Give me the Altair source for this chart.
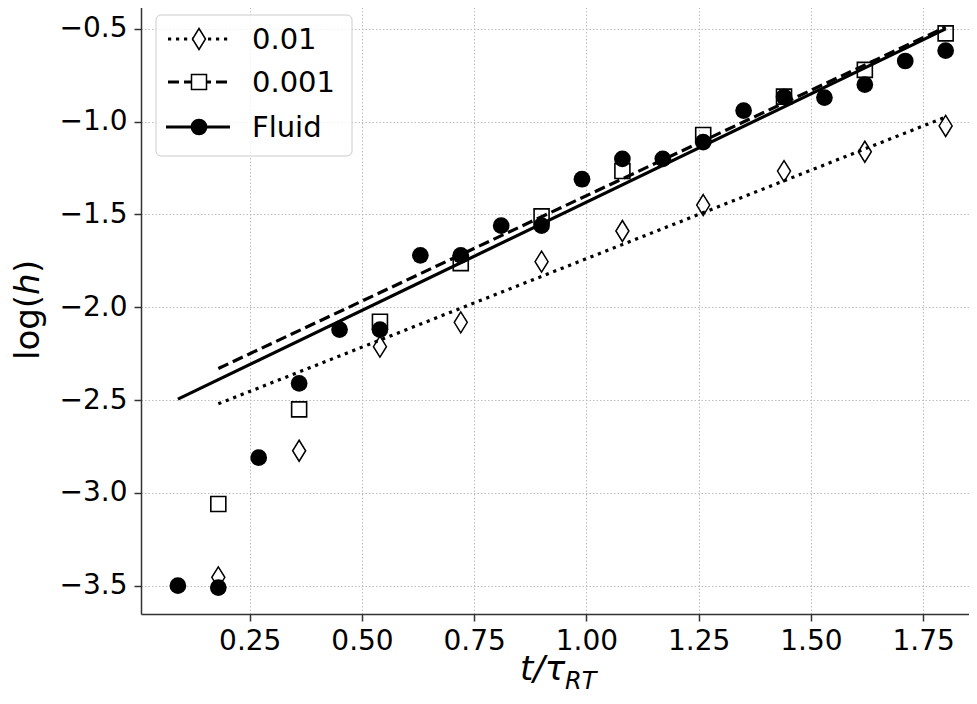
import altair as alt
import pandas as pd

# ---- data ----
fluid_t = [0.09, 0.18, 0.27, 0.36, 0.45, 0.54, 0.63, 0.72, 0.81, 0.90,
           0.99, 1.08, 1.17, 1.26, 1.35, 1.44, 1.53, 1.62, 1.71, 1.80]
fluid_h = [-3.50, -3.51, -2.81, -2.41, -2.12, -2.12, -1.72, -1.72, -1.56, -1.56,
           -1.31, -1.20, -1.20, -1.11, -0.94, -0.866, -0.87, -0.80, -0.673, -0.617]

sq_t = [0.18, 0.36, 0.54, 0.72, 0.90, 1.08, 1.26, 1.44, 1.62, 1.80]
sq_h = [-3.06, -2.55, -2.078, -1.762, -1.51, -1.266, -1.072, -0.865, -0.721, -0.524]

di_t = [0.18, 0.36, 0.54, 0.72, 0.90, 1.08, 1.26, 1.44, 1.62, 1.80]
di_h = [-3.455, -2.773, -2.212, -2.081, -1.754, -1.589, -1.449, -1.266, -1.162, -1.023]

# fitted lines (end points)
fit_fluid_t = [0.09, 1.80]
fit_fluid_h = [-2.495, -0.50]
fit_sq_t = [0.18, 1.80]
fit_sq_h = [-2.33, -0.49]
fit_di_t = [0.18, 1.80]
fit_di_h = [-2.52, -0.975]

legend_labels = ["0.01", "0.001", "Fluid"]

x_ticks = [0.25, 0.50, 0.75, 1.00, 1.25, 1.50, 1.75]
y_ticks = [-3.5, -3.0, -2.5, -2.0, -1.5, -1.0, -0.5]

x_domain = [0.0078, 1.852]
y_domain = [-3.6525, -0.3443]

W, H = 828, 614
FONT = "DejaVu Sans"
DIAMOND = "M0,-1L0.62,0L0,1L-0.62,0Z"

xs = alt.Scale(domain=x_domain, nice=False, zero=False)
ys = alt.Scale(domain=y_domain, nice=False, zero=False)

xaxis = alt.Axis(values=x_ticks, format=".2f", title=None, grid=True)
yaxis = alt.Axis(values=y_ticks, format=".1f", title=None, grid=True)


def df(t, h):
    return pd.DataFrame({"x": t, "y": h})


def enc(ch):
    return ch.encode(x=alt.X("x:Q", scale=xs, axis=xaxis),
                     y=alt.Y("y:Q", scale=ys, axis=yaxis))


one = pd.DataFrame({"a": [0]})

layers = []

# fitted lines
layers.append(enc(alt.Chart(df(fit_di_t, fit_di_h)).mark_line(
    color="black", strokeWidth=3.2, strokeDash=[3.2, 4.8], strokeCap="butt")))
layers.append(enc(alt.Chart(df(fit_sq_t, fit_sq_h)).mark_line(
    color="black", strokeWidth=3.2, strokeDash=[11, 5], strokeCap="butt")))
layers.append(enc(alt.Chart(df(fit_fluid_t, fit_fluid_h)).mark_line(
    color="black", strokeWidth=3.2)))

# markers
layers.append(enc(alt.Chart(df(di_t, di_h)).mark_point(
    shape=DIAMOND, size=441, filled=False, stroke="black", strokeWidth=1.5,
    opacity=1)))
layers.append(enc(alt.Chart(df(sq_t, sq_h)).mark_point(
    shape="square", size=225, filled=False, stroke="black", strokeWidth=1.6,
    opacity=1)))
layers.append(enc(alt.Chart(df(fluid_t, fluid_h)).mark_point(
    shape="circle", size=280, filled=True, color="black", opacity=1)))

# legend
layers.append(alt.Chart(one).mark_rect(
    fill="white", fillOpacity=0.8, stroke="#cccccc", strokeWidth=1, cornerRadius=5
).encode(x=alt.value(15), x2=alt.value(211), y=alt.value(15), y2=alt.value(156)))

row_y = [39, 82, 127]
styles = [
    dict(dash=[3.2, 4.8], shape=DIAMOND, size=441, filled=False, x1=27, x2=88),
    dict(dash=[11, 5], shape="square", size=225, filled=False, x1=27, x2=88),
    dict(dash=None, shape="circle", size=280, filled=True, x1=25, x2=89),
]
for lab, yy, st in zip(legend_labels, row_y, styles):
    rule_kw = dict(color="black", strokeWidth=3.2, strokeCap="butt")
    if st["dash"]:
        rule_kw["strokeDash"] = st["dash"]
    layers.append(alt.Chart(one).mark_rule(**rule_kw).encode(
        x=alt.value(st["x1"]), x2=alt.value(st["x2"]), y=alt.value(yy)))
    if st["filled"]:
        pt = alt.Chart(one).mark_point(shape=st["shape"], size=st["size"],
                                       filled=True, color="black", opacity=1)
    else:
        pt = alt.Chart(one).mark_point(shape=st["shape"], size=st["size"],
                                       filled=True, fill="white", stroke="black",
                                       strokeWidth=1.5, opacity=1)
    layers.append(pt.encode(x=alt.value(58), y=alt.value(yy)))
    layers.append(alt.Chart(one).mark_text(
        text=lab, font=FONT, fontSize=29, color="black", align="left",
        baseline="alphabetic").encode(x=alt.value(111), y=alt.value(yy + 10)))

# axis titles (mathtext-like)
layers.append(alt.Chart(one).mark_text(
    text="t/τ", font=FONT, fontSize=34, fontStyle="italic", color="black",
    align="left", baseline="alphabetic").encode(x=alt.value(379), y=alt.value(680)))
layers.append(alt.Chart(one).mark_text(
    text="RT", font=FONT, fontSize=24, fontStyle="italic", color="black",
    align="left", baseline="alphabetic").encode(x=alt.value(424), y=alt.value(689)))

layers.append(alt.Chart(one).mark_text(
    text="log(", font=FONT, fontSize=34, color="black", angle=270,
    align="left", baseline="alphabetic").encode(x=alt.value(-102), y=alt.value(360)))
layers.append(alt.Chart(one).mark_text(
    text="h", font=FONT, fontSize=34, fontStyle="italic", color="black", angle=270,
    align="left", baseline="alphabetic").encode(x=alt.value(-102), y=alt.value(295)))
layers.append(alt.Chart(one).mark_text(
    text=")", font=FONT, fontSize=34, color="black", angle=270,
    align="left", baseline="alphabetic").encode(x=alt.value(-102), y=alt.value(273)))

chart = alt.layer(*layers).properties(
    width=W, height=H,
    autosize=alt.AutoSizeParams(type="none"),
    padding={"left": 133, "top": -8, "right": 0, "bottom": 82},
    background="white",
).configure_view(strokeWidth=0).configure_axis(
    labelFont=FONT, labelFontSize=28, labelColor="black",
    domainColor="#333333", domainWidth=1.5,
    tickColor="#333333", tickWidth=1.5, tickSize=7, labelPadding=6,
    gridColor="#bdbdbd", gridWidth=1, gridDash=[1.5, 2],
).configure_axisX(labelPadding=6).configure_axisY(labelPadding=7)

chart.save("out.html", embed_options={"renderer": "svg", "actions": False})
